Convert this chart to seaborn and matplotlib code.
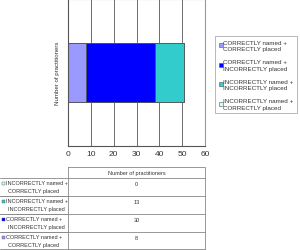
import matplotlib
matplotlib.use("Agg")
import matplotlib.pyplot as plt
import seaborn as sns
import pandas as pd
import numpy as np
from matplotlib.patches import Patch, Rectangle

sns.set_theme(style="white")
plt.rcParams['font.family'] = ['Liberation Sans', 'DejaVu Sans']

categories = ["CORRECTLY named +\nCORRECTLY placed",
              "CORRECTLY named +\nINCORRECTLY placed",
              "INCORRECTLY named +\nINCORRECTLY placed",
              "INCORRECTLY named +\nCORRECTLY placed"]
values = [8, 30, 13, 0]
colors = ["#9999FF", "#0000FF", "#33CCCC", "#CCFFFF"]
series_label = "Number of practitioners"
xticks = [0, 10, 20, 30, 40, 50, 60]

W, H = 300, 251
fig = plt.figure(figsize=(W / 100, H / 100), dpi=100)

def fc(x0, y0, x1, y1):
    return [x0 / W, 1 - y1 / H, (x1 - x0) / W, (y1 - y0) / H]

ax = fig.add_axes(fc(68, 0, 205, 147))
cum = np.cumsum(values)
# draw cumulative bars from the largest so that segments stack
for i in reversed(range(len(values))):
    sns.barplot(x=[cum[i]], y=[series_label], orient="h", color=colors[i],
                width=0.4, edgecolor="#555555", linewidth=0.6, ax=ax, saturation=1)
ax.set_xlim(0, 60)
ax.set_xticks(xticks)
ax.set_xticklabels([str(t) for t in xticks], fontsize=6)
ax.set_yticks([])
ax.set_ylabel("Number of practitioners", fontsize=4.4, color="#333333", labelpad=6)
ax.set_xlabel("")
ax.grid(axis="x", color="#555555", linewidth=0.6)
ax.set_axisbelow(True)
for s in ax.spines.values():
    s.set_color("#999999")
    s.set_linewidth(0.8)
ax.spines["left"].set_color("#555555")
ax.spines["bottom"].set_color("#555555")
ax.tick_params(axis="x", length=0, pad=3, colors="#333333")

handles = [Patch(facecolor=c, edgecolor="#555555", linewidth=0.4, label=l)
           for c, l in zip(colors, categories)]
leg = fig.legend(handles=handles, loc="upper left",
                 bbox_to_anchor=(215 / W, 1 - 37 / H), fontsize=4.5,
                 frameon=True, fancybox=False, edgecolor="#999999",
                 handlelength=0.6, handleheight=0.6, handletextpad=0.15,
                 labelspacing=1.3, borderpad=0.6, borderaxespad=0)
leg.get_frame().set_linewidth(0.6)
for t in leg.get_texts():
    t.set_color("#333333")
    t.set_linespacing(1.35)

# table
tax = fig.add_axes([0, 0, 1, 1])
tax.set_xlim(0, W)
tax.set_ylim(H, 0)
tax.axis("off")
lc = "#888888"
lw = 0.6
rows_y = [168, 179, 197, 215, 233, 250]
# header cell
tax.plot([68, 205, 205, 68, 68], [168, 168, 179, 179, 168], color=lc, lw=lw)
tax.text(136.5, 173.5, series_label, fontsize=4.0, ha="center", va="center", color="#333333")
order = list(reversed(range(len(values))))
for r, i in enumerate(order):
    y0, y1 = rows_y[r + 1], rows_y[r + 2]
    tax.plot([0, 205], [y1, y1], color=lc, lw=lw)
    tax.plot([68, 68], [y0, y1], color=lc, lw=lw)
    tax.plot([205, 205], [y0, y1], color=lc, lw=lw)
    tax.plot([0, 68], [y0, y0], color=lc, lw=lw)
    tax.add_patch(Rectangle((1.5, y0 + 3.5), 3, 3, facecolor=colors[i],
                            edgecolor="#555555", linewidth=0.3))
    lines = categories[i].split("\n")
    tax.text(5.5, y0 + 5, lines[0], fontsize=4.0, va="center", ha="left", color="#333333")
    tax.text(7.5, y0 + 12.5, lines[1], fontsize=4.0, va="center", ha="left", color="#333333")
    tax.text(136.5, y0 + 6, str(values[i]), fontsize=4.0, va="center", ha="center", color="#333333")

fig.savefig("out.png", dpi=100)
